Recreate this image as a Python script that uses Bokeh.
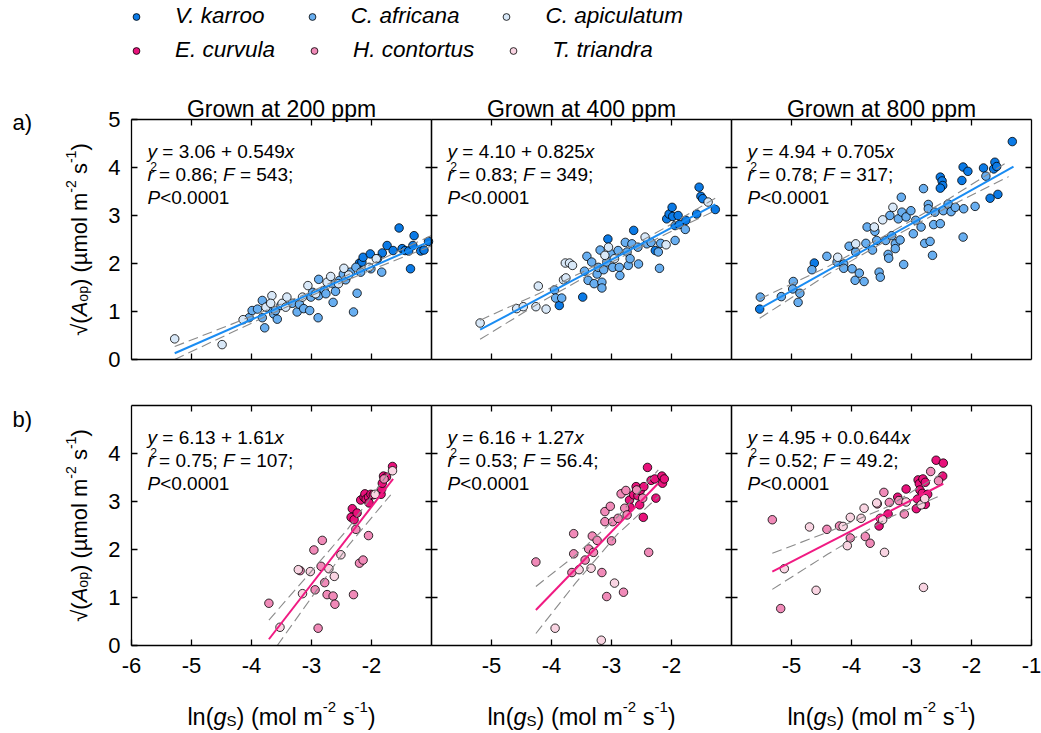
import math
from bokeh.plotting import figure
from bokeh.models import Range1d, LinearAxis, FixedTicker, Label, Legend, LegendItem
from bokeh.embed import file_html
from bokeh.resources import INLINE

# ---------------------------------------------------------------- texts
TITLES = ["Grown at 200 ppm", "Grown at 400 ppm", "Grown at 800 ppm"]
ROW_TAGS = ["a)", "b)"]
BLUE_SPECIES = ["V. karroo", "C. africana", "C. apiculatum"]
PINK_SPECIES = ["E. curvula", "H. contortus", "T. triandra"]
INTERCEPTS = ["3.06", "4.10", "4.94", "6.13", "6.16", "4.95"]
SLOPES = ["0.549", "0.825", "0.705", "1.61", "1.27", "0.0.644"]
R2 = ["0.86", "0.83", "0.78", "0.75", "0.53", "0.52"]
FSTAT = ["543", "349", "317", "107", "56.4", "49.2"]
PVAL = ["<0.0001"] * 6
X_TICKS = [-6, -5, -4, -3, -2, -1]
X_TICK_LABELS = ["-6", "-5", "-4", "-3", "-2", "-1"]
Y_TICKS = [0, 1, 2, 3, 4, 5]

# ---------------------------------------------------------------- a) 200 ppm
A1_VK_X = [-2.20, -2.16, -2.14, -2.02, -1.82, -1.74, -1.64, -1.54, -1.49, -1.44, -1.35, -1.38, -1.29, -1.31, -1.18, -1.125, -1.05]
A1_VK_Y = [2.01, 2.03, 2.13, 2.20, 2.22, 2.375, 2.27, 2.74, 2.31, 2.27, 1.89, 2.26, 2.58, 2.375, 2.26, 2.28, 2.46]
A1_CA_X = [-4.04, -3.99, -3.90, -3.82, -3.78, -3.82, -3.71, -3.63, -3.57, -3.60, -3.51, -3.39, -3.32, -3.24, -3.20, -3.13, -3.03, -3.01, -2.98,
           -2.89, -2.88, -2.88, -2.79, -2.76, -2.65, -2.64, -2.60, -2.53, -2.47, -2.43, -2.35, -2.30, -2.24, -2.26, -2.18, -2.01, -1.90, -1.83]
A1_CA_Y = [0.87, 1.02, 1.05, 1.23, 0.66, 0.87, 1.09, 0.95, 0.84, 1.02, 1.125, 1.19, 1.17, 0.99, 1.15, 1.06, 1.02, 1.30, 1.40,
           0.87, 1.67, 1.33, 1.44, 1.37, 1.58, 1.19, 1.42, 1.65, 1.78, 1.66, 1.82, 0.99, 1.38, 1.92, 1.82, 1.89, 2.10, 1.82]
A1_CP_X = [-5.28, -4.49, -4.14, -3.76, -3.66, -3.68, -3.49, -3.43, -3.41, -3.15, -3.06, -2.93, -2.74, -2.68, -2.55, -2.46, -2.38, -2.04, -1.92]
A1_CP_Y = [0.43, 0.31, 0.83, 1.09, 1.33, 1.17, 1.17, 1.09, 1.30, 1.30, 1.54, 1.37, 1.61, 1.73, 1.58, 1.90, 1.76, 1.92, 2.10]
A1_FIT_X = [-5.28, -1.01]
A1_FIT_Y = [0.13, 2.47]
A1_CI_X = [-5.28, -4.2, -3.1, -2.0, -1.01]
A1_CI_UP = [0.27, 0.80, 1.36, 1.99, 2.58]
A1_CI_LO = [0.00, 0.64, 1.28, 1.87, 2.36]

# ---------------------------------------------------------------- a) 400 ppm
A2_VK_X = [-3.87, -3.48, -3.06, -2.63, -2.27, -2.08, -2.04, -1.99, -1.98, -1.94, -1.89, -1.87, -1.76, -1.58, -1.54, -1.51, -1.48, -1.27]
A2_VK_Y = [1.125, 1.30, 2.51, 2.69, 2.27, 2.93, 3.03, 3.17, 2.98, 2.79, 3.00, 2.81, 2.90, 3.03, 3.59, 3.40, 3.35, 3.125]
A2_CA_X = [-3.95, -3.93, -3.83, -3.45, -3.41, -3.39, -3.33, -3.29, -3.24, -3.22, -3.19, -3.16, -3.16, -3.13, -3.08, -3.01, -2.98,
           -2.89, -2.87, -2.86, -2.77, -2.74, -2.72, -2.69, -2.66, -2.56, -2.55, -2.41, -2.34, -2.22, -2.20, -2.18, -1.94, -1.77]
A2_CA_Y = [1.45, 1.28, 1.28, 1.84, 2.15, 1.65, 2.03, 1.58, 1.78, 1.92, 2.28, 1.61, 1.49, 1.87, 2.03, 2.20, 1.92,
           2.27, 1.92, 1.75, 2.44, 2.24, 1.96, 2.10, 2.41, 2.34, 1.99, 2.41, 2.44, 2.24, 1.90, 2.42, 2.48, 2.71]
A2_CP_X = [-5.19, -4.58, -4.47, -4.26, -4.09, -4.22, -3.80, -3.76, -3.77, -3.70, -3.65, -3.11, -3.05, -2.95, -2.44, -2.09, -1.39]
A2_CP_Y = [0.76, 1.06, 1.10, 1.10, 1.05, 1.53, 1.66, 1.70, 2.01, 2.01, 1.96, 2.17, 2.34, 2.10, 2.55, 2.39, 3.28]
A2_FIT_X = [-5.19, -1.27]
A2_FIT_Y = [0.62, 3.23]
A2_CI_X = [-5.19, -4.2, -3.1, -2.1, -1.27]
A2_CI_UP = [0.82, 1.38, 2.06, 2.75, 3.36]
A2_CI_LO = [0.42, 1.18, 1.96, 2.61, 3.10]

# ---------------------------------------------------------------- a) 800 ppm
A3_VK_X = [-5.53, -4.62, -2.52, -2.49, -2.48, -2.52, -2.16, -2.14, -2.06, -1.80, -1.69, -1.63, -1.61, -1.58, -1.56, -1.32]
A3_VK_Y = [1.05, 2.01, 3.80, 3.72, 3.625, 3.57, 3.73, 4.01, 3.92, 3.99, 3.36, 3.97, 4.11, 4.02, 3.44, 4.54]
A3_CA_X = [-5.52, -5.17, -4.97, -4.98, -4.89, -4.86, -4.66, -4.41, -4.24, -4.13, -4.13, -4.04, -3.99, -3.94, -3.93, -3.87, -3.79, -3.76,
           -3.74, -3.61, -3.65, -3.58, -3.54, -3.52, -3.43, -3.39, -3.38, -3.36, -3.33, -3.27, -3.27, -3.22, -3.19, -3.17, -3.13, -3.16,
           -3.09, -3.01, -2.97, -2.93, -2.84, -2.80, -2.78, -2.72, -2.69, -2.72, -2.65, -2.63, -2.61, -2.52, -2.47, -2.39, -2.34, -2.27,
           -2.14, -2.13, -1.94, -1.76]
A3_CA_Y = [1.30, 1.31, 1.625, 1.47, 1.19, 1.38, 1.87, 2.15, 2.03, 1.99, 1.90, 2.36, 1.89, 1.65, 2.24, 1.80, 1.625, 2.42,
           2.76, 2.67, 2.28, 2.48, 1.82, 1.715, 2.48, 2.19, 2.11, 3.00, 2.58, 2.41, 2.31, 2.93, 2.49, 3.38, 1.98, 3.07,
           2.97, 3.10, 2.62, 2.90, 2.76, 3.56, 2.42, 3.23, 2.46, 3.14, 2.17, 2.81, 3.07, 2.83, 3.10, 3.24, 3.08, 3.17,
           2.55, 3.14, 3.19, 3.82]
A3_CP_X = [-4.23, -3.93, -3.62, -3.48, -3.31]
A3_CP_Y = [2.13, 2.41, 2.76, 2.91, 3.17]
A3_FIT_X = [-5.53, -1.30]
A3_FIT_Y = [1.06, 4.02]
A3_CI_X = [-5.53, -4.4, -3.4, -2.4, -1.38]
A3_CI_UP = [1.26, 1.93, 2.61, 3.33, 4.13]
A3_CI_LO = [0.86, 1.77, 2.49, 3.17, 3.81]

# ---------------------------------------------------------------- b) 200 ppm
B1_EC_X = [-2.32, -2.34, -2.29, -2.24, -2.18, -2.125, -2.11, -2.09, -2.05, -2.04, -2.01, -1.97, -1.84, -1.83, -1.82, -1.80, -1.75, -1.65]
B1_EC_Y = [2.85, 2.67, 2.62, 2.76, 3.03, 3.09, 3.16, 3.05, 3.09, 2.97, 3.15, 3.14, 3.15, 3.26, 3.38, 3.53, 3.51, 3.73]
B1_HC_X = [-3.71, -2.89, -3.19, -2.96, -2.94, -2.82, -2.84, -2.78, -2.74, -2.64, -2.61, -2.30, -2.26, -2.20, -2.14, -2.05, -1.79]
B1_HC_Y = [0.88, 0.36, 1.56, 1.99, 1.16, 2.19, 1.65, 1.31, 1.06, 1.03, 0.86, 1.06, 2.42, 1.715, 1.78, 2.29, 3.47]
B1_TT_X = [-3.525, -3.15, -3.22, -3.02, -2.71, -2.62, -2.51, -1.94, -1.65]
B1_TT_Y = [0.38, 1.08, 1.58, 1.54, 1.60, 1.44, 1.89, 3.15, 3.64]
B1_FIT_X = [-3.71, -1.64]
B1_FIT_Y = [0.13, 3.47]
B1_CI_UP_X = [-3.71, -3.0, -2.4, -1.68]
B1_CI_UP = [0.53, 1.55, 2.42, 3.66]
B1_CI_LO_X = [-3.57, -3.0, -2.4, -1.68]
B1_CI_LO = [0.00, 1.00, 2.06, 3.14]

# ---------------------------------------------------------------- b) 400 ppm
B2_EC_X = [-2.70, -2.69, -2.63, -2.59, -2.56, -2.53, -2.52, -2.46, -2.47, -2.40, -2.34, -2.28, -2.26, -2.16, -2.15, -2.12]
B2_EC_Y = [3.03, 2.88, 3.14, 3.31, 3.12, 2.93, 3.23, 3.31, 2.67, 3.71, 3.44, 3.47, 3.07, 3.53, 3.38, 3.47]
B2_HC_X = [-4.26, -3.63, -3.63, -3.66, -3.44, -3.38, -3.32, -3.30, -3.24, -3.16, -3.11, -3.11, -3.08, -3.02, -3.00, -2.98, -2.89,
           -2.84, -2.80, -2.76, -2.78, -2.74, -2.58, -2.48, -2.38]
B2_HC_Y = [1.74, 2.33, 1.91, 1.52, 1.78, 2.01, 2.28, 1.94, 2.19, 1.52, 2.58, 2.79, 1.02, 2.90, 2.18, 2.58, 2.65,
           3.16, 1.11, 3.23, 2.86, 2.72, 3.24, 3.07, 1.94]
B2_TT_X = [-3.94, -3.54, -3.34, -3.17, -2.95]
B2_TT_Y = [0.36, 1.58, 1.61, 0.11, 1.30]
B2_FIT_X = [-4.26, -2.22]
B2_FIT_Y = [0.74, 3.38]
B2_CI_X = [-4.26, -3.6, -2.9, -2.22]
B2_CI_UP = [1.23, 1.88, 2.68, 3.66]
B2_CI_LO = [0.25, 1.30, 2.32, 3.10]

# ---------------------------------------------------------------- b) 800 ppm
B3_EC_X = [-3.54, -3.39, -3.23, -3.09, -2.92, -2.89, -2.90, -2.87, -2.86, -2.82, -2.81, -2.77, -2.77, -2.73, -2.59, -2.48, -2.47]
B3_EC_Y = [2.49, 2.74, 3.09, 3.26, 2.85, 3.45, 3.05, 3.37, 3.24, 3.17, 3.47, 3.40, 2.94, 3.15, 3.86, 3.53, 3.80]
B3_HC_X = [-5.32, -5.18, -4.41, -4.20, -4.02, -3.77, -3.69, -3.57, -3.52, -3.46, -3.37, -3.21, -3.12, -2.68, -2.55]
B3_HC_Y = [2.62, 0.77, 2.42, 2.49, 2.24, 2.27, 2.13, 2.95, 2.65, 3.19, 2.98, 3.02, 2.74, 3.625, 3.43]
B3_TT_X = [-5.12, -4.70, -4.59, -4.14, -4.07, -4.02, -3.84, -3.79, -3.58, -3.48, -3.45, -3.09, -2.84, -2.80, -2.78]
B3_TT_Y = [1.60, 2.47, 1.15, 2.48, 2.08, 2.67, 2.65, 2.86, 2.97, 2.62, 1.94, 2.99, 2.93, 1.21, 3.06]
B3_FIT_X = [-5.32, -2.47]
B3_FIT_Y = [1.54, 3.37]
B3_CI_X = [-5.32, -4.4, -3.4, -2.49]
B3_CI_UP = [1.92, 2.36, 2.89, 3.59]
B3_CI_LO = [1.17, 1.90, 2.65, 3.14]

# ---------------------------------------------------------------- styling / geometry
FONT = "Liberation Sans"
BLUE_FILLS = ["#0b7ae6", "#68aef0", "#d8e8f8"]
PINK_FILLS = ["#e8127b", "#f08ab8", "#f9d4e2"]
BLUE_LINE = "#1a8cf2"
PINK_LINE = "#f01a82"
CI_COLOR = "#8a8a8a"

W, H = 1041, 733
PX_X, PX_Y = 60.0, 48.0            # pixels per data unit inside every panel
COL_LEFT = [131, 431, 731]          # panel left edges (px)
ROW_TOP = [119, 405]                # panel top edges (px)


def x_range_for(left):
    start = -6 - left / PX_X
    return Range1d(start, start + W / PX_X)


def y_range_for(top):
    return Range1d(5 - (H - top) / PX_Y, 5 + top / PX_Y)


p = figure(width=W, height=H, output_backend="svg", toolbar_location=None,
           x_axis_type=None, y_axis_type=None,
           x_range=x_range_for(COL_LEFT[0]), y_range=y_range_for(ROW_TOP[0]),
           min_border=0, min_border_left=0, min_border_right=0,
           min_border_top=0, min_border_bottom=0)
p.extra_x_ranges = {"c2": x_range_for(COL_LEFT[1]), "c3": x_range_for(COL_LEFT[2])}
p.extra_y_ranges = {"rb": y_range_for(ROW_TOP[1])}
p.outline_line_color = None
p.background_fill_color = "white"
p.border_fill_color = "white"

XR = ["default", "c2", "c3"]
YR = ["default", "rb"]

WID = {" ": 278, "(": 333, ")": 333, "+": 584, "-": 333, ".": 278, ";": 278, "<": 584, "=": 584,
       "A": 667, "F": 611, "P": 667, "S": 667, "G": 778,
       "a": 556, "g": 556, "l": 222, "m": 833, "n": 556, "o": 556, "p": 556, "r": 333, "s": 500,
       "x": 500, "y": 500, "\u00b5": 576, "\u221a": 549}


def text_width(s, size):
    return sum(WID.get(ch, 556) for ch in s) * size / 1000.0


def rich(pieces, x, y, xr, yr, size, dx=0.0, dy=0.0, align="left", angle=0.0):
    small = 0.64 * size

    def w(t, k):
        return text_width(t, small if k in ("sub", "sup") else size)

    total = sum(w(t, k) for t, k in pieces if k != "over")
    pos = {"left": 0.0, "center": -total / 2.0, "right": -total}[align]
    ca, sa = math.cos(angle), math.sin(angle)
    last = pos
    for t, k in pieces:
        fs = small if k in ("sub", "sup", "over") else size
        shift = {"sub": -0.18 * size, "sup": 0.40 * size, "over": 0.44 * size}.get(k, 0.0)
        a = last + 0.14 * size if k == "over" else pos
        lead = len(t) - len(t.lstrip(" "))
        a_draw = a + text_width(" " * lead, fs)
        s = t.strip(" ")
        if s:
            p.add_layout(Label(x=x, y=y, x_range_name=xr, y_range_name=yr,
                               x_offset=dx + a_draw * ca - shift * sa,
                               y_offset=dy + a_draw * sa + shift * ca,
                               text=s, text_font=FONT, text_font_size=f"{fs:.1f}px",
                               text_font_style="italic" if k == "i" else "normal",
                               text_align="left", text_baseline="alphabetic",
                               angle=angle, text_color="black"))
        if k != "over":
            last = a_draw
            pos += w(t, k)


def add_axis(side, xr, yr, loc, bounds, ticks, labelled, standoff, overrides=None):
    ax = LinearAxis(x_range_name=xr, y_range_name=yr, fixed_location=loc, bounds=bounds,
                    ticker=FixedTicker(ticks=ticks),
                    major_tick_in=6, major_tick_out=0, minor_tick_in=0, minor_tick_out=0,
                    minor_tick_line_color=None, axis_line_color="black", axis_line_width=1.3,
                    major_tick_line_color="black", major_tick_line_width=1.3,
                    major_label_standoff=standoff, major_label_text_font=FONT,
                    major_label_text_font_size="22px",
                    major_label_text_color="black" if labelled else None)
    if overrides:
        ax.major_label_overrides = overrides
    p.add_layout(ax, side)


panels = [
    (0, 0, [(A1_VK_X, A1_VK_Y), (A1_CA_X, A1_CA_Y), (A1_CP_X, A1_CP_Y)], (A1_FIT_X, A1_FIT_Y),
     (A1_CI_X, A1_CI_UP, A1_CI_X, A1_CI_LO)),
    (1, 0, [(A2_VK_X, A2_VK_Y), (A2_CA_X, A2_CA_Y), (A2_CP_X, A2_CP_Y)], (A2_FIT_X, A2_FIT_Y),
     (A2_CI_X, A2_CI_UP, A2_CI_X, A2_CI_LO)),
    (2, 0, [(A3_VK_X, A3_VK_Y), (A3_CA_X, A3_CA_Y), (A3_CP_X, A3_CP_Y)], (A3_FIT_X, A3_FIT_Y),
     (A3_CI_X, A3_CI_UP, A3_CI_X, A3_CI_LO)),
    (0, 1, [(B1_EC_X, B1_EC_Y), (B1_HC_X, B1_HC_Y), (B1_TT_X, B1_TT_Y)], (B1_FIT_X, B1_FIT_Y),
     (B1_CI_UP_X, B1_CI_UP, B1_CI_LO_X, B1_CI_LO)),
    (1, 1, [(B2_EC_X, B2_EC_Y), (B2_HC_X, B2_HC_Y), (B2_TT_X, B2_TT_Y)], (B2_FIT_X, B2_FIT_Y),
     (B2_CI_X, B2_CI_UP, B2_CI_X, B2_CI_LO)),
    (2, 1, [(B3_EC_X, B3_EC_Y), (B3_HC_X, B3_HC_Y), (B3_TT_X, B3_TT_Y)], (B3_FIT_X, B3_FIT_Y),
     (B3_CI_X, B3_CI_UP, B3_CI_X, B3_CI_LO)),
]

x_overrides = {t: lab for t, lab in zip(X_TICKS, X_TICK_LABELS)}

legend_renderers = {}
for idx, (col, row, series, fit, ci) in enumerate(panels):
    xr, yr = XR[col], YR[row]
    fills = BLUE_FILLS if row == 0 else PINK_FILLS
    names = BLUE_SPECIES if row == 0 else PINK_SPECIES
    for (sx, sy), fc, nm in zip(series, fills, names):
        r = p.scatter(sx, sy, x_range_name=xr, y_range_name=yr, size=8.5,
                      fill_color=fc, line_color="black", line_width=0.8)
        legend_renderers.setdefault(nm, r)
    cux, cuy, clx, cly = ci
    p.line(cux, cuy, x_range_name=xr, y_range_name=yr, line_color=CI_COLOR, line_width=1.1, line_dash="10 5")
    p.line(clx, cly, x_range_name=xr, y_range_name=yr, line_color=CI_COLOR, line_width=1.1, line_dash="10 5")
    p.line(fit[0], fit[1], x_range_name=xr, y_range_name=yr,
           line_color=BLUE_LINE if row == 0 else PINK_LINE, line_width=2)

    # panel frame with inward ticks on all four sides
    if row == 0:
        yt_left = Y_TICKS if col == 0 else Y_TICKS[1:-1]
    else:
        yt_left = Y_TICKS[:-1] if col == 0 else Y_TICKS[1:-1]
    add_axis("left", xr, yr, -6, (0, 5), yt_left, col == 0, 11)
    add_axis("right", xr, yr, -1, (0, 5), Y_TICKS[1:-1], False, 5)
    add_axis("above", xr, yr, 5, (-6, -1), X_TICKS[1:-1], False, 5)
    if row == 1:
        xt = X_TICKS[:-1] if col == 0 else (X_TICKS[1:-1] if col == 1 else X_TICKS[1:])
        add_axis("below", xr, yr, 0, (-6, -1), xt, True, 12, x_overrides)
    else:
        add_axis("below", xr, yr, 0, (-6, -1), X_TICKS[1:-1], False, 5)

    # regression statistics
    lines = [
        [("y", "i"), (" = " + INTERCEPTS[idx] + " + " + SLOPES[idx], "n"), ("x", "i")],
        [("r", "i"), ("2", "over"), (" = " + R2[idx] + "; ", "n"), ("F", "i"), (" = " + FSTAT[idx] + ";", "n")],
        [("P", "i"), (PVAL[idx], "n")],
    ]
    for k, pieces in enumerate(lines):
        rich(pieces, -6, 5, xr, yr, 19, dx=16, dy=-32 - 23 * k)

    # column titles / axis labels
    if row == 0:
        p.add_layout(Label(x=-3.5, y=5, x_range_name=xr, y_range_name=yr, y_offset=11,
                           text=TITLES[col], text_font=FONT, text_font_size="23px",
                           text_align="center", text_baseline="alphabetic", text_color="black"))
    else:
        rich([("ln(", "n"), ("g", "i"), ("S", "sub"), (") (mol m", "n"), ("-2", "sup"),
              (" s", "n"), ("-1", "sup"), (")", "n")],
             -3.5, 0, xr, yr, 23.5, dy=-71, align="center")
    if col == 0:
        rich([("\u221a(", "n"), ("A", "i"), ("op", "sub"), (") (\u00b5mol m", "n"), ("-2", "sup"),
              (" s", "n"), ("-1", "sup"), (")", "n")],
             -6, 2.5, xr, yr, 22, dx=-52, align="center", angle=math.pi / 2)
        p.add_layout(Label(x=-6, y=5, x_range_name=xr, y_range_name=yr,
                           x_offset=-119, y_offset=-3 if row == 0 else -14,
                           text=ROW_TAGS[row], text_font=FONT, text_font_size="22px",
                           text_align="left", text_baseline="alphabetic", text_color="black"))

LEGEND_STYLE = dict(orientation="horizontal", glyph_width=30, glyph_height=17, label_standoff=24,
                    label_height=25, padding=0, margin=0, border_line_color=None,
                    background_fill_alpha=0, label_text_font=FONT, label_text_color="black",
                    label_text_font_style="italic", label_text_font_size="22.5px")
legend_top = Legend(items=[LegendItem(label=nm, renderers=[legend_renderers[nm]]) for nm in BLUE_SPECIES],
                    location=(121, 704), spacing=32, **LEGEND_STYLE)
legend_bottom = Legend(items=[LegendItem(label=nm, renderers=[legend_renderers[nm]]) for nm in PINK_SPECIES],
                       location=(121, 670), spacing=24, **LEGEND_STYLE)
p.add_layout(legend_top)
p.add_layout(legend_bottom)

open("out.html", "w").write(file_html(p, INLINE))
